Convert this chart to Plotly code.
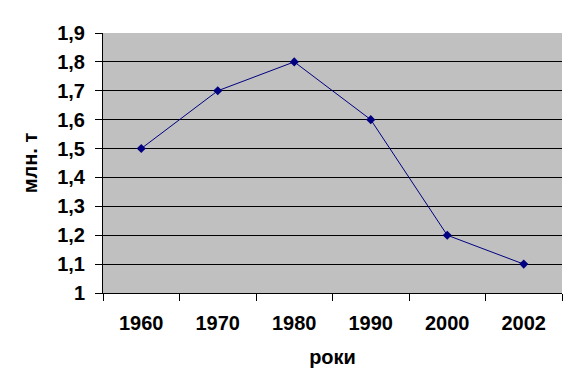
import plotly.graph_objects as go

years = ["1960", "1970", "1980", "1990", "2000", "2002"]
values = [1.5, 1.7, 1.8, 1.6, 1.2, 1.1]
y_ticks = [1.0, 1.1, 1.2, 1.3, 1.4, 1.5, 1.6, 1.7, 1.8, 1.9]
y_tick_labels = ["1", "1,1", "1,2", "1,3", "1,4", "1,5", "1,6", "1,7", "1,8", "1,9"]

font_family = "Liberation Sans, Arial, sans-serif"

fig = go.Figure()
fig.add_trace(go.Scatter(
    x=years, y=values, mode="lines+markers",
    line=dict(color="#000080", width=1),
    marker=dict(symbol="diamond", size=7, color="#000080"),
    showlegend=False,
))

fig.update_layout(
    width=577, height=383,
    margin=dict(l=103, r=15, t=33, b=90),
    paper_bgcolor="white",
    plot_bgcolor="#C0C0C0",
    font=dict(family=font_family, size=20, color="black"),
    xaxis=dict(
        type="category",
        showgrid=False,
        showline=True, linecolor="black", linewidth=1,
        ticks="outside", tickson="boundaries", ticklen=7, tickcolor="black",
        tickfont=dict(family=font_family, size=20, color="black", weight="bold"),
        title=dict(text="роки", font=dict(family=font_family, size=20, color="black", weight="bold"), standoff=16),
        range=[-0.5, 5.5],
        ticklabelstandoff=12,
    ),
    yaxis=dict(
        range=[1.0, 1.9],
        tickvals=y_ticks, ticktext=y_tick_labels,
        showgrid=True, gridcolor="black", gridwidth=1,
        showline=True, linecolor="black", linewidth=1,
        ticks="outside", ticklen=7, tickcolor="black",
        zeroline=False,
        tickfont=dict(family=font_family, size=20, color="black", weight="bold"),
        title=dict(text="млн. т", font=dict(family=font_family, size=20, color="black", weight="bold"), standoff=14),
        ticklabelstandoff=6,
    ),
)

fig.write_html("out.html")
